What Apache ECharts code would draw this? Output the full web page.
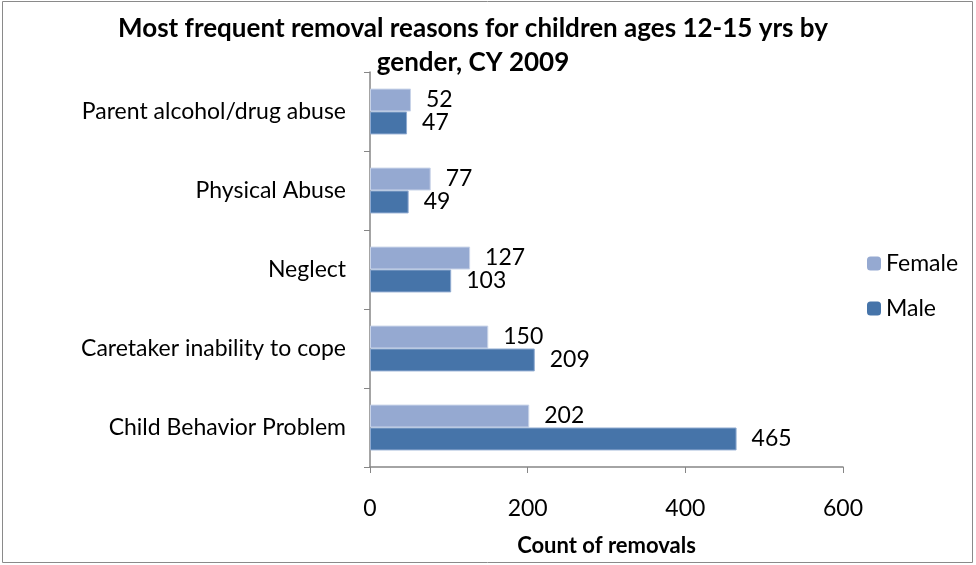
<!DOCTYPE html>
<html>
<head>
<meta charset="utf-8">
<script src="https://cdn.jsdelivr.net/npm/echarts@6/dist/echarts.min.js"></script>
<style>
html,body{margin:0;padding:0;background:#fff;}
#chart{width:976px;height:565px;}
</style>
</head>
<body>
<div id="chart"></div>
<script>
var categories = ['Child Behavior Problem', 'Caretaker inability to cope', 'Neglect', 'Physical Abuse', 'Parent alcohol/drug abuse'];
var maleValues = [465, 209, 103, 49, 47];
var femaleValues = [202, 150, 127, 77, 52];
var xTicks = [0, 200, 400, 600];

var FONT = 'Lato';
var FS = 23;
var chart = echarts.init(document.getElementById('chart'));
var labelStyle = {show: true, position: 'right', distance: 15, color: '#000', fontSize: FS, fontFamily: FONT};
chart.setOption({
  animation: false,
  backgroundColor: '#fff',
  title: {
    text: 'Most frequent removal reasons for children ages 12-15 yrs by\ngender, CY 2009',
    left: 468, top: 7, textAlign: 'center',
    textStyle: {fontFamily: FONT, fontWeight: 'bold', fontSize: 26, lineHeight: 34, color: '#000'}
  },
  legend: {
    orient: 'vertical', left: 862, top: 247, itemWidth: 14, itemHeight: 14, itemGap: 22,
    data: ['Female', 'Male'],
    itemStyle: {borderWidth: 0},
    textStyle: {fontFamily: FONT, fontSize: FS, color: '#000'}
  },
  graphic: [{type: 'rect', shape: {x: 2.5, y: 1.5, width: 970, height: 561}, style: {fill: 'none', stroke: '#8a8a8a', lineWidth: 1}, silent: true}],
  grid: {left: 370, right: 133, top: 72, bottom: 98, containLabel: false},
  xAxis: {
    type: 'value', min: xTicks[0], max: xTicks[xTicks.length - 1], interval: 200,
    name: 'Count of removals', nameLocation: 'middle', nameGap: 68,
    nameTextStyle: {fontFamily: FONT, fontWeight: 'bold', fontSize: FS - 1, color: '#000'},
    axisLine: {show: true, lineStyle: {color: '#868686', width: 1.5}},
    axisTick: {show: true, length: 6, lineStyle: {color: '#868686'}},
    splitLine: {show: false},
    axisLabel: {margin: 30, fontFamily: FONT, fontSize: FS, color: '#000'}
  },
  yAxis: {
    type: 'category', data: categories,
    axisLine: {show: true, lineStyle: {color: '#868686', width: 1.5}},
    axisTick: {show: true, length: 6, lineStyle: {color: '#868686'}},
    axisLabel: {margin: 24, fontFamily: FONT, fontSize: FS, color: '#000'}
  },
  series: [
    {name: 'Female', type: 'bar', data: femaleValues, barGap: '0%', barCategoryGap: '42%',
     itemStyle: {color: '#95A9D1', borderColor: '#C8D3E8', borderWidth: 1}, label: labelStyle},
    {name: 'Male', type: 'bar', data: maleValues, barGap: '0%', barCategoryGap: '42%',
     itemStyle: {color: '#4674A9', borderColor: '#8FAAD0', borderWidth: 1}, label: labelStyle}
  ]
});
</script>
</body>
</html>
